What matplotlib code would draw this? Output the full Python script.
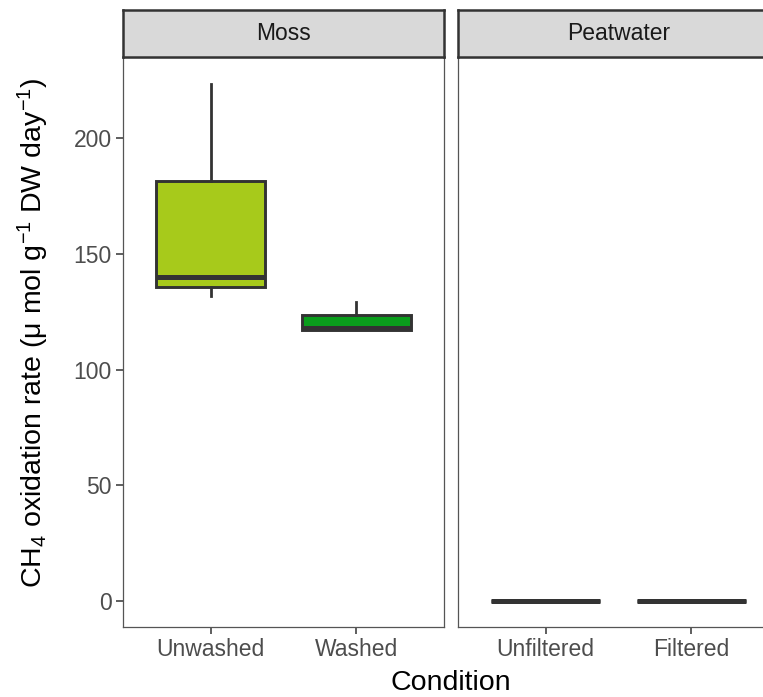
import matplotlib
matplotlib.use("Agg")
import matplotlib.pyplot as plt

plt.rcParams['font.family'] = ['Liberation Sans', 'DejaVu Sans']
plt.rcParams['mathtext.fontset'] = 'custom'
plt.rcParams['mathtext.rm'] = 'Liberation Sans'
plt.rcParams['mathtext.it'] = 'Liberation Sans:italic'

# data
facets = ['Moss', 'Peatwater']
moss_conditions = ['Unwashed', 'Washed']
moss_whislo = [131.9, 117.2]
moss_q1 = [135.8, 117.2]
moss_med = [140.0, 118.2]
moss_q3 = [181.5, 123.7]
moss_whishi = [223.7, 129.3]
moss_colors = ['#a7ca1b', '#0a9e1c']

peat_conditions = ['Unfiltered', 'Filtered']
peat_whislo = [0.0, 0.0]
peat_q1 = [0.0, 0.0]
peat_med = [0.0, 0.0]
peat_q3 = [0.0, 0.0]
peat_whishi = [0.0, 0.0]
peat_colors = ['#1b9e77', '#7570b3']

yticks = [0, 50, 100, 150, 200]

W, H = 763, 697
fig = plt.figure(figsize=(W / 100, H / 100), dpi=100)

def fx(px):
    return px / W

def fy(py):
    return 1 - py / H

panel_top, panel_bot = 57, 627
strip_top = 10
# second panel runs past the right edge of the image, as in the original
panels = [(123, 444), (458, 779)]

groups = [
    (moss_conditions, moss_whislo, moss_q1, moss_med, moss_q3, moss_whishi, moss_colors),
    (peat_conditions, peat_whislo, peat_q1, peat_med, peat_q3, peat_whishi, peat_colors),
]

edge = '#333333'
for i, ((x0, x1), name, g) in enumerate(zip(panels, facets, groups)):
    ax = fig.add_axes([fx(x0), fy(panel_bot), fx(x1) - fx(x0), fy(panel_top) - fy(panel_bot)])
    conds, lo, q1, med, q3, hi, cols = g
    stats = []
    for j in range(len(conds)):
        stats.append(dict(whislo=lo[j], q1=q1[j], med=med[j], q3=q3[j], whishi=hi[j], fliers=[]))
    bp = ax.bxp(stats, positions=[1, 2], widths=0.75, patch_artist=True, showcaps=False,
                boxprops=dict(edgecolor=edge, linewidth=2.1),
                medianprops=dict(color=edge, linewidth=3.6, solid_capstyle='butt'),
                whiskerprops=dict(color=edge, linewidth=2.0))
    for patch, c in zip(bp['boxes'], cols):
        patch.set_facecolor(c)
    ax.set_xlim(0.4, 2.6)
    ax.set_ylim(-11.2, 235.2)
    ax.set_xticks([1, 2])
    ax.set_xticklabels(conds)
    ax.set_yticks(yticks)
    ax.tick_params(axis='both', length=5, width=1.1, color=edge, labelsize=16.5,
                   labelcolor='#4d4d4d', pad=3)
    if i > 0:
        ax.tick_params(axis='y', left=False, labelleft=False)
    for s in ax.spines.values():
        s.set_color('#555555')
        s.set_linewidth(0.9)

    sax = fig.add_axes([fx(x0), fy(panel_top), fx(x1) - fx(x0), fy(strip_top) - fy(panel_top)])
    sax.set_facecolor('#d9d9d9')
    sax.set_xticks([])
    sax.set_yticks([])
    for s in sax.spines.values():
        s.set_color(edge)
        s.set_linewidth(1.8)
    sax.text(0.5, 0.5, name, ha='center', va='center', fontsize=16.5, color='#1a1a1a',
             transform=sax.transAxes)

fig.text(fx((panels[0][0] + panels[1][1]) / 2), fy(683), 'Condition',
         ha='center', va='center', fontsize=20.5, color='black')
fig.text(fx(33), fy(333),
         r'CH$_4$ oxidation rate ($\mathrm{\mu}$ mol g$^{-1}$ DW day$^{-1}$)',
         ha='center', va='center', rotation=90, fontsize=20.5, color='black')

fig.savefig('out.png', dpi=100)
